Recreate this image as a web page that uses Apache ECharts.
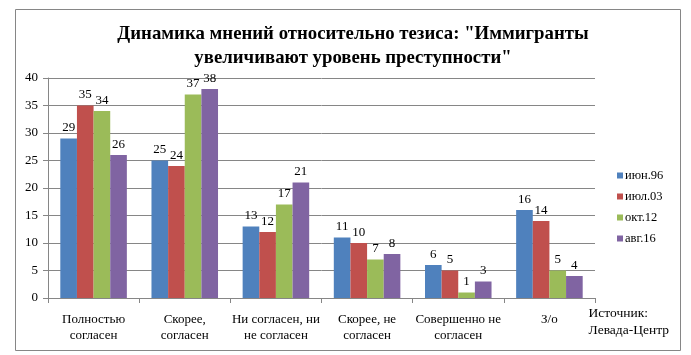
<!DOCTYPE html>
<html><head><meta charset="utf-8">
<script src="https://cdn.jsdelivr.net/npm/echarts@6/dist/echarts.min.js"></script>
<style>html,body{margin:0;padding:0;background:#fff}#c{width:691px;height:355px}</style>
</head><body><div id="c"></div>
<script>
const categories = ["Полностью\nсогласен", "Скорее,\nсогласен", "Ни согласен, ни\nне согласен", "Скорее, не\nсогласен", "Совершенно не\nсогласен", "З/о"];
const seriesNames = ["июн.96", "июл.03", "окт.12", "авг.16"];
const jun96 = [29, 25, 13, 11, 6, 16];
const jul03 = [35, 24, 12, 10, 5, 14];
const oct12 = [34, 37, 17, 7, 1, 5];
const aug16 = [26, 38, 21, 8, 3, 4];
const yTicks = [0, 5, 10, 15, 20, 25, 30, 35, 40];
const colors = ["#4F81BD", "#C0504D", "#9BBB59", "#8064A2"];
const values = [jun96, jul03, oct12, aug16];
const serif = "'Liberation Serif', 'DejaVu Serif', serif";

const chart = echarts.init(document.getElementById('c'));
chart.setOption({
  animation: false,
  backgroundColor: '#fff',
  graphic: [
    { type: 'rect', shape: { x: 15.5, y: 9.5, width: 665, height: 341 }, style: { fill: 'none', stroke: '#868686', lineWidth: 1 } },
    { type: 'text', right: 22, top: 305, style: { text: 'Источник:\nЛевада-Центр', font: "13.5px " + serif, fill: '#000', align: 'right', lineHeight: 17 } }
  ],
  title: {
    text: 'Динамика мнений относительно тезиса: "Иммигранты\nувеличивают уровень преступности"',
    left: 348, top: 17, textAlign: 'center',
    textStyle: { fontFamily: serif, fontWeight: 'bold', fontSize: 18.8, lineHeight: 24, color: '#000' }
  },
  legend: {
    orient: 'vertical', left: 612, top: 164, itemWidth: 6, itemHeight: 6, itemGap: 8, icon: 'rect',
    textStyle: { fontFamily: serif, fontSize: 12.5, color: '#000', padding: [0, 0, 0, -3] },
    data: seriesNames
  },
  grid: { left: 48, right: 96, top: 78, bottom: 57, containLabel: false },
  xAxis: {
    type: 'category', data: categories,
    axisLine: { lineStyle: { color: '#868686' } },
    axisTick: { show: true, length: 5, lineStyle: { color: '#868686' } },
    axisLabel: { fontFamily: serif, fontSize: 13, color: '#000', lineHeight: 16, margin: 14, interval: 0 }
  },
  yAxis: {
    type: 'value', min: 0, max: 40, interval: 5,
    axisLine: { show: true, lineStyle: { color: '#868686' } },
    axisTick: { show: true, length: 5, lineStyle: { color: '#868686' } },
    splitLine: { lineStyle: { color: '#868686' } },
    axisLabel: { fontFamily: serif, fontSize: 13, color: '#000', margin: 10,
      formatter: v => yTicks.includes(v) ? String(v) : '' }
  },
  series: seriesNames.map((n, i) => ({
    name: n, type: 'bar', data: values[i], barGap: '0%', barCategoryGap: '27%',
    itemStyle: { color: colors[i] },
    label: { show: true, position: 'top', distance: 4, fontFamily: serif, fontSize: 13, color: '#000' }
  }))
});
</script></body></html>
